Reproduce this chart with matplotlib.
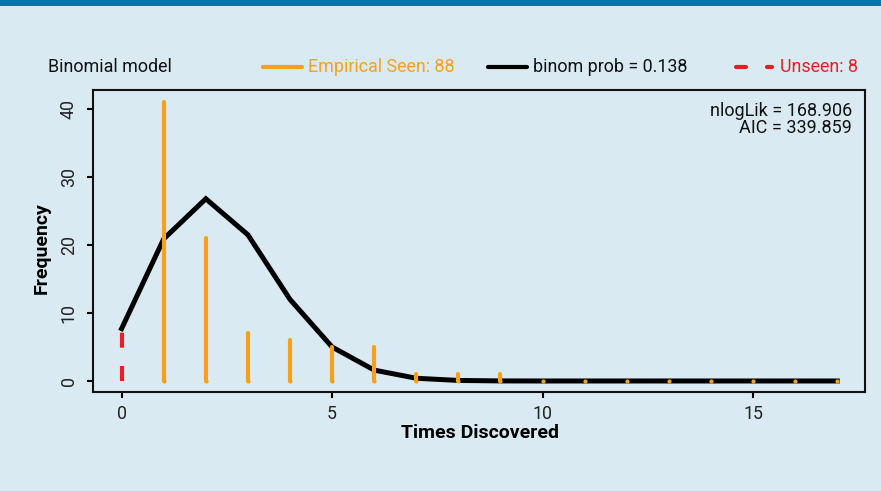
import matplotlib
matplotlib.use("Agg")
import matplotlib.pyplot as plt
from matplotlib.lines import Line2D
from matplotlib.patches import Rectangle

# Data
times = list(range(0, 18))
empirical_x = list(range(1, 18))
empirical_counts = [41, 21, 7, 6, 5, 5, 1, 1, 1, 0, 0, 0, 0, 0, 0, 0, 0]
binom_expected = [7.7, 20.9, 26.8, 21.5, 12.0, 5.0, 1.6, 0.4, 0.08, 0.01,
                  0, 0, 0, 0, 0, 0, 0, 0]
unseen_x = 0
unseen_height = 7.7
xticks = [0, 5, 10, 15]
yticks = [0, 10, 20, 30, 40]

BG = "#daeaf3"
ORANGE = "#f7a11a"
RED = "#ed1c24"
BAND = "#0078a6"
FONT = ["Roboto", "DejaVu Sans"]

plt.rcParams["font.family"] = FONT

fig = plt.figure(figsize=(8.81, 4.91), dpi=100, facecolor=BG)
W, H = 881, 491
fig.patches.append(Rectangle((0, 1 - 6 / H), 1, 6 / H, transform=fig.transFigure,
                             facecolor=BAND, edgecolor="none"))

ax = fig.add_axes([93 / W, 1 - 392 / H, (865 - 93) / W, (392 - 90) / H])
ax.set_facecolor(BG)

ax.plot(times, binom_expected, color="black", lw=3.6, zorder=2, solid_joinstyle="miter")
ax.vlines(empirical_x, 0, empirical_counts, color=ORANGE, lw=3.0, capstyle="round", zorder=3)
ax.plot(empirical_x, [0] * len(empirical_x), "o", color=ORANGE, ms=3.0, mew=0, zorder=3)
ax.plot([unseen_x, unseen_x], [0, unseen_height], color=RED, lw=3.0,
        dashes=(3.6, 4.4), zorder=4)

ax.set_xlim(-0.68, 17.66)
ax.set_ylim(-1.62, 42.8)
ax.set_xticks(xticks)
ax.set_yticks(yticks)
ax.set_xticklabels([str(v) for v in xticks], fontsize=12.8, color="#222222")
ax.set_yticklabels([str(v) for v in yticks], fontsize=12.8, color="#222222",
                   rotation=90, va="center")
ax.tick_params(axis="both", direction="out", length=4.5, width=1.5, color="black")
ax.tick_params(axis="x", pad=5)
ax.tick_params(axis="y", pad=6.5)
for s in ax.spines.values():
    s.set_linewidth(1.5)
    s.set_color("#111111")

fig.text(480 / W, 1 - 433 / H, "Times Discovered", ha="center", va="center",
         fontsize=14, fontweight="bold", color="black")
fig.text(42 / W, 1 - 248 / H, "Frequency", ha="center", va="center",
         fontsize=14, fontweight="bold", rotation=90, color="black")

ax.text(0.983, 0.96, "nlogLik = 168.906\nAIC = 339.859", transform=ax.transAxes,
        ha="right", va="top", fontsize=13, color="#111111", linespacing=0.95)

# Legend row
ly = 1 - 67 / H
fs = 12.9
fig.text(48 / W, ly, "Binomial model", ha="left", va="center", fontsize=fs, color="#111111")
fig.lines.append(Line2D([263 / W, 302 / W], [ly, ly], transform=fig.transFigure,
                        color=ORANGE, lw=3.0, solid_capstyle="round"))
fig.text(308 / W, ly, "Empirical Seen: 88", ha="left", va="center", fontsize=fs, color=ORANGE)
fig.lines.append(Line2D([488 / W, 527 / W], [ly, ly], transform=fig.transFigure,
                        color="black", lw=3.0, solid_capstyle="round"))
fig.text(533 / W, ly, "binom prob = 0.138", ha="left", va="center", fontsize=fs, color="#111111")
fig.lines.append(Line2D([736 / W, 746 / W], [ly, ly], transform=fig.transFigure,
                        color=RED, lw=3.0, solid_capstyle="round"))
fig.lines.append(Line2D([767 / W, 772 / W], [ly, ly], transform=fig.transFigure,
                        color=RED, lw=3.0, solid_capstyle="round"))
fig.text(780 / W, ly, "Unseen: 8", ha="left", va="center", fontsize=fs, color=RED)

fig.savefig("out.png", dpi=100, facecolor=BG)
